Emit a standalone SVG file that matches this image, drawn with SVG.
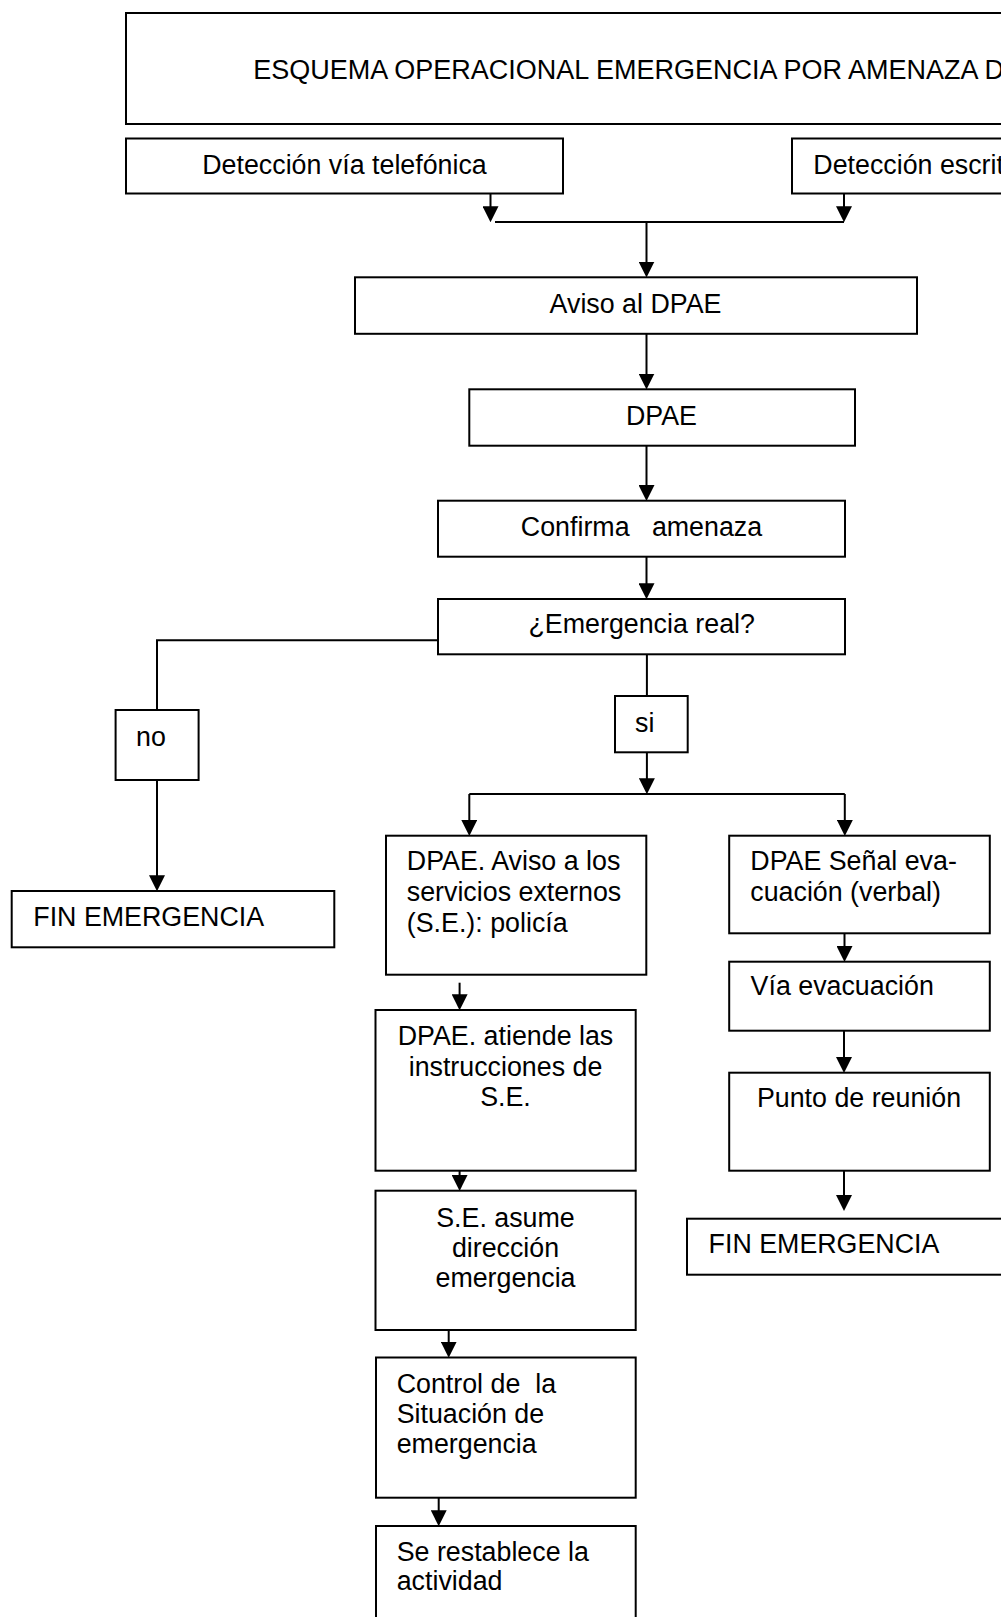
<svg xmlns="http://www.w3.org/2000/svg" width="1001" height="1617" viewBox="0 0 1001 1617">
<style>
.box{fill:#fff;stroke:#000;stroke-width:2}
.t{font-family:"Liberation Sans",Arial,Helvetica,sans-serif;font-size:26.8px;fill:#000}
.tt{font-size:27px}
.m{text-anchor:middle}
.c{fill:none;stroke:#000;stroke-width:2}
.a{fill:none;stroke:#000;stroke-width:2;marker-end:url(#ah)}
</style>
<defs>
<marker id="ah" markerUnits="userSpaceOnUse" markerWidth="16" markerHeight="16" viewBox="0 0 15 15" refX="11" refY="7.5" orient="auto"><path d="M0,0 L15,7.5 L0,15 z" fill="#000"/></marker>
</defs>
<rect x="0" y="0" width="1001" height="1617" fill="#fff"/>

<g id="connectors">
<path class="a" d="M490.5,193.5 V218"/>
<path class="a" d="M844,193.5 V218"/>
<path class="c" d="M495,222 H844"/>
<path class="a" d="M646.5,222 V273.3"/>
<path class="a" d="M646.5,333.8 V385.3"/>
<path class="a" d="M646.5,445.7 V496.7"/>
<path class="a" d="M646.5,556.7 V595"/>
<path class="c" d="M438,640.3 H157 V710"/>
<path class="a" d="M157,780 V887"/>
<path class="c" d="M646.9,654.3 V696"/>
<path class="a" d="M646.9,752.3 V790"/>
<path class="c" d="M469.3,794 H844.8"/>
<path class="a" d="M469.3,794 V831.7"/>
<path class="a" d="M844.8,794 V831.7"/>
<path class="a" d="M844.5,933.3 V957.7"/>
<path class="a" d="M844,1030.7 V1068.7"/>
<path class="a" d="M844,1170.7 V1206.7"/>
<path class="a" d="M459.6,982.7 V1006"/>
<path class="a" d="M459.6,1170.7 V1186.7"/>
<path class="a" d="M448.7,1330 V1353.5"/>
<path class="a" d="M438.7,1497.7 V1522"/>
</g>

<g id="title">
<rect class="box" x="126" y="13" width="900" height="111"/>
<text class="t tt" x="253.3" y="79">ESQUEMA OPERACIONAL EMERGENCIA POR AMENAZA D</text>
</g>

<g id="det-tel">
<rect class="box" x="126" y="138.5" width="437" height="55"/>
<text class="t m" x="344.5" y="173.5">Detección vía telefónica</text>
</g>

<g id="det-esc">
<rect class="box" x="792" y="138.5" width="250" height="55"/>
<text class="t" x="813.3" y="173.5">Detección escrit</text>
</g>

<g id="aviso">
<rect class="box" x="355" y="277.3" width="562" height="56.5"/>
<text class="t m" x="635.5" y="312.5">Aviso al DPAE</text>
</g>

<g id="dpae">
<rect class="box" x="469.3" y="389.3" width="385.7" height="56.4"/>
<text class="t m" x="661.5" y="424.5">DPAE</text>
</g>

<g id="confirma">
<rect class="box" x="438" y="500.7" width="407" height="56"/>
<text class="t m" x="641.5" y="536" xml:space="preserve">Confirma   amenaza</text>
</g>

<g id="emergencia">
<rect class="box" x="438" y="599" width="407" height="55.3"/>
<text class="t m" x="641.7" y="633.3">¿Emergencia real?</text>
</g>

<g id="no">
<rect class="box" x="115.6" y="710" width="83" height="70"/>
<text class="t" x="136" y="746">no</text>
</g>

<g id="fin1">
<rect class="box" x="11.7" y="891" width="322.6" height="56.3"/>
<text class="t" x="33.3" y="925.7">FIN EMERGENCIA</text>
</g>

<g id="si">
<rect class="box" x="615" y="696" width="72.7" height="56.3"/>
<text class="t" x="635" y="731.7">si</text>
</g>

<g id="aviso-se">
<rect class="box" x="386" y="835.7" width="260.3" height="139"/>
<text class="t" x="406.8" y="870">DPAE. Aviso a los</text>
<text class="t" x="406.8" y="901">servicios externos</text>
<text class="t" x="406.8" y="932">(S.E.): policía</text>
</g>

<g id="senal">
<rect class="box" x="729.2" y="835.7" width="260.6" height="97.6"/>
<text class="t" x="750.3" y="870">DPAE Señal eva-</text>
<text class="t" x="750.3" y="901">cuación (verbal)</text>
</g>

<g id="via">
<rect class="box" x="729.2" y="961.7" width="260.6" height="69"/>
<text class="t" x="750.6" y="995">Vía evacuación</text>
</g>

<g id="punto">
<rect class="box" x="729.2" y="1072.7" width="260.6" height="98"/>
<text class="t m" x="859" y="1107.3">Punto de reunión</text>
</g>

<g id="fin2">
<rect class="box" x="687" y="1218.7" width="400" height="56"/>
<text class="t" x="708.6" y="1253.3">FIN EMERGENCIA</text>
</g>

<g id="atiende">
<rect class="box" x="375.5" y="1010" width="260.2" height="160.7"/>
<text class="t m" x="505.5" y="1045">DPAE. atiende las</text>
<text class="t m" x="505.5" y="1075.5">instrucciones de</text>
<text class="t m" x="505.5" y="1106">S.E.</text>
</g>

<g id="asume">
<rect class="box" x="375.5" y="1190.7" width="260.2" height="139.3"/>
<text class="t m" x="505.5" y="1226.7">S.E. asume</text>
<text class="t m" x="505.5" y="1256.7">dirección</text>
<text class="t m" x="505.5" y="1286.7">emergencia</text>
</g>

<g id="control">
<rect class="box" x="376" y="1357.5" width="259.7" height="140.2"/>
<text class="t" x="396.7" y="1393.3" xml:space="preserve">Control de  la</text>
<text class="t" x="396.7" y="1423.3">Situación de</text>
<text class="t" x="396.7" y="1453.3">emergencia</text>
</g>

<g id="restablece">
<rect class="box" x="376" y="1526" width="259.7" height="120"/>
<text class="t" x="396.7" y="1561">Se restablece la</text>
<text class="t" x="396.7" y="1590">actividad</text>
</g>
</svg>
